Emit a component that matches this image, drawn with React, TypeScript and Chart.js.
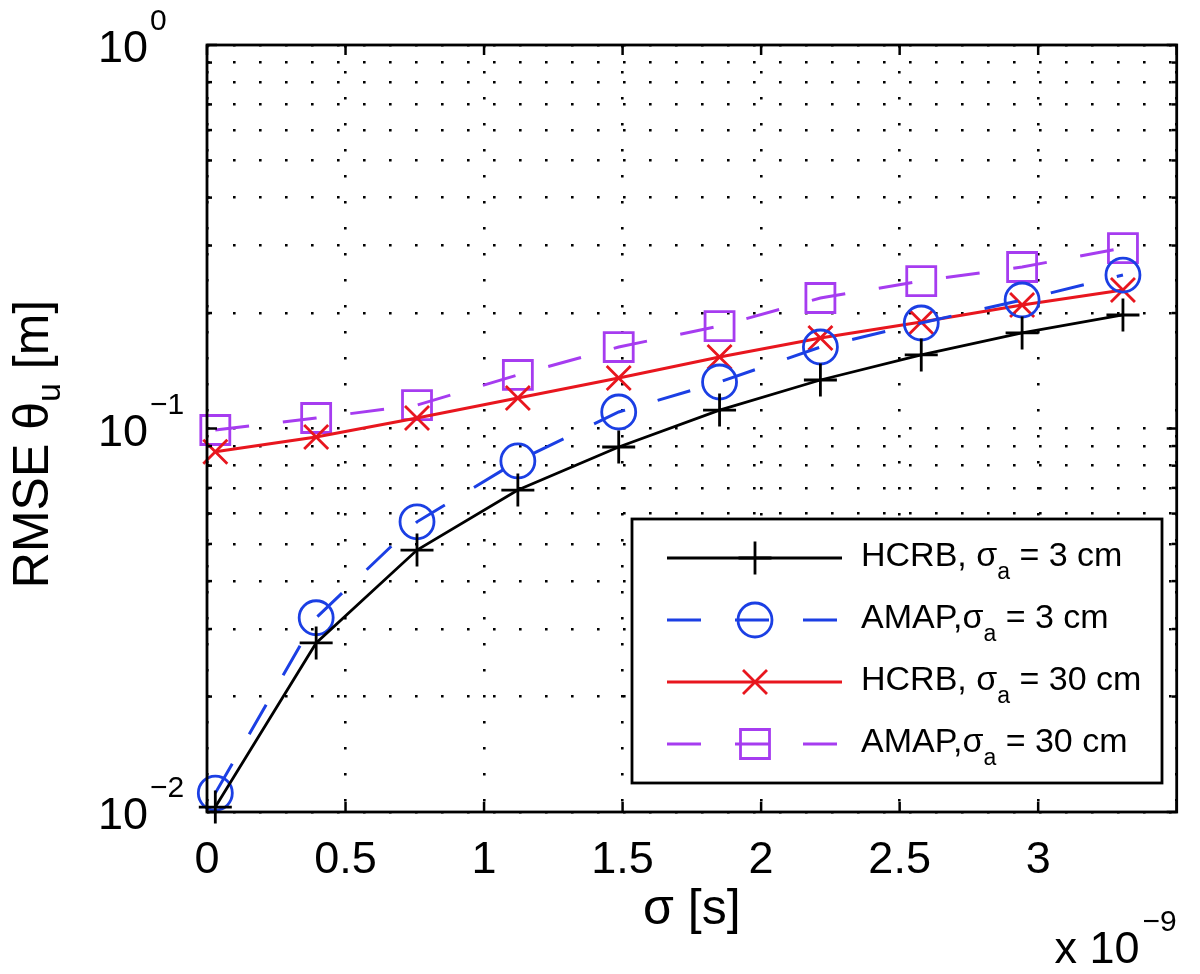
import React, { useEffect, useRef } from "react";
import { Chart, registerables } from "chart.js";

Chart.register(...registerables);

// ---- data (σ in units of 1e-9 s) ----
const sigmaX = [0.03, 0.394, 0.758, 1.122, 1.486, 1.85, 2.214, 2.578, 2.942, 3.306];
const hcrb3cm = [0.0103, 0.0276, 0.0482, 0.0691, 0.0895, 0.1117, 0.1338, 0.1555, 0.1775, 0.1977];
const amap3cm = [0.0112, 0.0321, 0.0571, 0.0823, 0.1104, 0.1322, 0.1631, 0.1884, 0.2163, 0.2513];
const hcrb30cm = [0.087, 0.095, 0.1065, 0.1201, 0.1354, 0.1536, 0.1722, 0.1896, 0.2099, 0.2298];
const amap30cm = [0.0991, 0.1065, 0.1151, 0.1379, 0.1631, 0.185, 0.2189, 0.2424, 0.2637, 0.2955];

const xTicks = [0, 0.5, 1, 1.5, 2, 2.5, 3, 3.5];
const xTickLabels = ["0", "0.5", "1", "1.5", "2", "2.5", "3", ""];
const yMajorTicks = [0.01, 0.1, 1];
const yMajorExponents = ["−2", "−1", "0"];
const yMinorTicks = [0.02, 0.03, 0.04, 0.05, 0.06, 0.07, 0.08, 0.09, 0.2, 0.3, 0.4, 0.5, 0.6, 0.7, 0.8, 0.9];

const seriesNames = ["HCRB", "AMAP", "HCRB", "AMAP"];
const seriesSep = [", ", ",", ", ", ","];
const seriesSigmaA = ["3 cm", "3 cm", "30 cm", "30 cm"];

const xTitle = "σ [s]";
const yTitleMain = "RMSE θ";
const yTitleSub = "u";
const yTitleTail = " [m]";
const xExponent = "−9";

const FONT = '"Liberation Sans", Arial, Helvetica, sans-serif';
const BLUE = "#1b3fe4";
const RED = "#e8161e";
const PURPLE = "#a63cf0";
const DASH = [34, 34];

function drawMarker(ctx: CanvasRenderingContext2D, style: string, x: number, y: number, color: string) {
  ctx.save();
  ctx.strokeStyle = color;
  ctx.lineWidth = 2.8;
  ctx.setLineDash([]);
  ctx.beginPath();
  if (style === "cross") {
    ctx.moveTo(x - 16.5, y); ctx.lineTo(x + 16.5, y);
    ctx.moveTo(x, y - 16.5); ctx.lineTo(x, y + 16.5);
  } else if (style === "circle") {
    ctx.arc(x, y, 17, 0, Math.PI * 2);
  } else if (style === "crossRot") {
    const d = 12;
    ctx.moveTo(x - d, y - d); ctx.lineTo(x + d, y + d);
    ctx.moveTo(x - d, y + d); ctx.lineTo(x + d, y - d);
  } else if (style === "rect") {
    ctx.rect(x - 14.5, y - 14.5, 29, 29);
  }
  ctx.stroke();
  ctx.restore();
}

const overlayPlugin = {
  id: "matlabOverlay",
  afterDraw(chart: any) {
    const { ctx, chartArea: a, scales } = chart;
    const xs = scales.x;
    const ys = scales.y;
    ctx.save();
    ctx.setLineDash([]);
    ctx.strokeStyle = "#000";
    ctx.fillStyle = "#000";

    const seg = (x1: number, y1: number, x2: number, y2: number) => {
      ctx.beginPath(); ctx.moveTo(x1, y1); ctx.lineTo(x2, y2); ctx.stroke();
    };

    // axes box
    ctx.lineWidth = 2.8;
    ctx.strokeRect(a.left, a.top, a.right - a.left, a.bottom - a.top);

    // x ticks (inside, bottom & top)
    ctx.lineWidth = 2.5;
    xTicks.forEach((v) => {
      const px = xs.getPixelForValue(v);
      seg(px, a.bottom, px, a.bottom - 10);
      seg(px, a.top, px, a.top + 10);
    });
    // y ticks (inside, left & right)
    yMajorTicks.forEach((v) => {
      const py = ys.getPixelForValue(v);
      seg(a.left, py, a.left + 10, py);
      seg(a.right, py, a.right - 10, py);
    });
    yMinorTicks.forEach((v) => {
      const py = ys.getPixelForValue(v);
      seg(a.left, py, a.left + 5, py);
      seg(a.right, py, a.right - 5, py);
    });

    // x tick labels
    ctx.font = `45px ${FONT}`;
    ctx.textAlign = "center";
    ctx.textBaseline = "alphabetic";
    xTicks.forEach((v, i) => {
      const px = xs.getPixelForValue(v);
      ctx.fillText(xTickLabels[i], px, a.bottom + 61);
    });

    // y tick labels 10^k
    yMajorTicks.forEach((v, i) => {
      const py = ys.getPixelForValue(v);
      ctx.font = `45px ${FONT}`;
      ctx.textAlign = "right";
      ctx.fillText("10", a.left - 59, py + 17);
      ctx.font = `30px ${FONT}`;
      ctx.textAlign = "left";
      ctx.fillText(yMajorExponents[i], a.left - 57, py - 15);
    });

    // x title
    ctx.font = `50px ${FONT}`;
    ctx.textAlign = "center";
    ctx.fillText(xTitle, (a.left + a.right) / 2, a.bottom + 112);

    // x exponent
    ctx.font = `30px ${FONT}`;
    ctx.textAlign = "right";
    ctx.fillText(xExponent, a.right, a.bottom + 119);
    const expW = ctx.measureText(xExponent).width;
    ctx.font = `45px ${FONT}`;
    ctx.fillText("x 10", a.right - expW - 3, a.bottom + 151);

    // y title (rotated)
    ctx.save();
    ctx.translate(48, 444);
    ctx.rotate(-Math.PI / 2);
    ctx.textAlign = "left";
    ctx.font = `50px ${FONT}`;
    const w1 = ctx.measureText(yTitleMain).width;
    const w3 = ctx.measureText(yTitleTail).width;
    ctx.font = `34px ${FONT}`;
    const w2 = ctx.measureText(yTitleSub).width;
    let sx = -(w1 + w2 + w3) / 2;
    ctx.font = `50px ${FONT}`;
    ctx.fillText(yTitleMain, sx, 0);
    sx += w1;
    ctx.font = `34px ${FONT}`;
    ctx.fillText(yTitleSub, sx, 12);
    sx += w2;
    ctx.font = `50px ${FONT}`;
    ctx.fillText(yTitleTail, sx, 0);
    ctx.restore();

    // legend
    const lx = 632, ly = 519, lw = 530, lh = 264;
    ctx.fillStyle = "#fff";
    ctx.fillRect(lx, ly, lw, lh);
    ctx.lineWidth = 2.8;
    ctx.strokeStyle = "#000";
    ctx.strokeRect(lx, ly, lw, lh);
    const dsets = chart.data.datasets;
    dsets.forEach((ds: any, i: number) => {
      const ry = 558 + i * 62;
      ctx.save();
      ctx.strokeStyle = ds.borderColor;
      ctx.lineWidth = ds.borderWidth;
      ctx.setLineDash(ds.borderDash || []);
      seg(667, ry, 842, ry);
      ctx.restore();
      drawMarker(ctx, ds.pointStyle, 755, ry, ds.borderColor);
      // text
      ctx.fillStyle = "#000";
      ctx.textAlign = "left";
      let tx = 861;
      const base = ry + 8;
      ctx.font = `34px ${FONT}`;
      const pre = seriesNames[i] + seriesSep[i] + "σ";
      ctx.fillText(pre, tx, base);
      tx += ctx.measureText(pre).width;
      ctx.font = `23px ${FONT}`;
      ctx.fillText("a", tx, base + 13);
      tx += ctx.measureText("a").width;
      ctx.font = `34px ${FONT}`;
      ctx.fillText(" = " + seriesSigmaA[i], tx, base);
    });

    ctx.restore();
  },
};

export default function App() {
  const canvasRef = useRef<HTMLCanvasElement | null>(null);

  useEffect(() => {
    const canvas = canvasRef.current;
    if (!canvas) return;
    const pts = (ys: number[]) => sigmaX.map((x, i) => ({ x, y: ys[i] }));
    const common = {
      fill: false,
      tension: 0,
      clip: false as any,
      pointBackgroundColor: "rgba(0,0,0,0)",
      pointBorderWidth: 2.8,
      pointHoverRadius: 0,
    };
    const gridOpts = { color: "#000", lineWidth: 2.6, drawTicks: false };
    const chart = new Chart(canvas, {
      type: "line",
      data: {
        datasets: [
          { ...common, label: "HCRB 3 cm", data: pts(hcrb3cm), borderColor: "#000", pointBorderColor: "#000", borderWidth: 2.8, pointStyle: "cross", pointRadius: 16.5 },
          { ...common, label: "AMAP 3 cm", data: pts(amap3cm), borderColor: BLUE, pointBorderColor: BLUE, borderWidth: 3, borderDash: DASH, pointStyle: "circle", pointRadius: 17 },
          { ...common, label: "HCRB 30 cm", data: pts(hcrb30cm), borderColor: RED, pointBorderColor: RED, borderWidth: 3, pointStyle: "crossRot", pointRadius: 17 },
          { ...common, label: "AMAP 30 cm", data: pts(amap30cm), borderColor: PURPLE, pointBorderColor: PURPLE, borderWidth: 3, borderDash: DASH, pointStyle: "rect", pointRadius: 20.5 },
        ],
      },
      options: {
        animation: false,
        responsive: false,
        devicePixelRatio: 1,
        layout: { padding: { left: 207, top: 45, right: 8, bottom: 162 } },
        plugins: { legend: { display: false }, tooltip: { enabled: false }, title: { display: false } },
        scales: {
          x: {
            type: "linear",
            min: 0,
            max: 3.5,
            ticks: { display: false },
            grid: gridOpts,
            border: { display: false, dash: [2.6, 23.4] },
            afterBuildTicks: (s: any) => { s.ticks = xTicks.map((v) => ({ value: v })); },
          },
          y: {
            type: "logarithmic",
            min: 0.01,
            max: 1,
            ticks: { display: false },
            grid: gridOpts,
            border: { display: false, dash: [2.6, 23.4] },
            afterBuildTicks: (s: any) => {
              s.ticks = [...yMajorTicks, ...yMinorTicks].sort((p, q) => p - q).map((v) => ({ value: v }));
            },
          },
        },
      } as any,
      plugins: [overlayPlugin],
    });
    return () => chart.destroy();
  }, []);

  return (
    <div style={{ position: "absolute", left: 0, top: 0, width: 1200, height: 974, background: "#fff" }}>
      <canvas ref={canvasRef} width={1200} height={974} style={{ display: "block", width: 1200, height: 974 }} />
    </div>
  );
}
